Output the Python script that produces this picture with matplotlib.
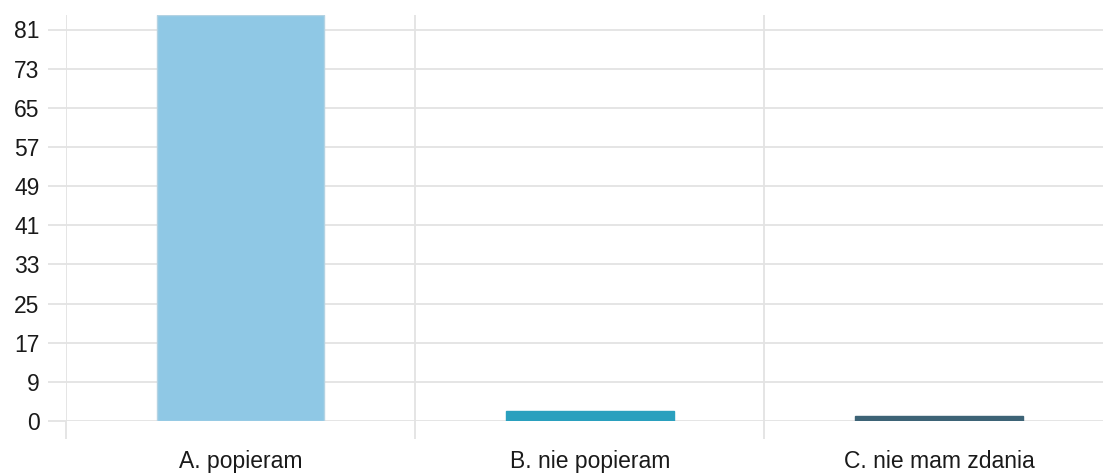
import math
import matplotlib
matplotlib.use('Agg')
import matplotlib.pyplot as plt

categories = ['A. popieram', 'B. nie popieram', 'C. nie mam zdania']
values = [84, 2, 1]
colors = ['#8fc8e5', '#2aa0be', '#3d6376']
edges = ['#b4d3e3', '#2aa0be', '#3d6376']
y_max = 81
n_ticks = 10

plt.rcParams['font.family'] = ['Liberation Sans', 'DejaVu Sans']

fig = plt.figure(figsize=(11.03, 4.76), dpi=100)
ax = fig.add_axes([66 / 1103, 55 / 476, 1047.5 / 1103, 406 / 476])

x = list(range(len(categories)))
ax.bar(x, values, width=0.48, color=colors, edgecolor=edges, linewidth=1, zorder=3)

ax.set_xlim(-0.5, len(categories) - 0.5)
ax.set_ylim(0, max(values))

ticks = [y_max / n_ticks * k for k in range(n_ticks + 1)]
ax.set_yticks(ticks)
ax.set_yticklabels([str(math.ceil(round(t, 6))) for t in ticks])

ax.set_xticks([i - 0.5 for i in range(len(categories) + 1)])
ax.set_xticklabels([])
ax.set_xticks(x, minor=True)
ax.set_xticklabels(categories, minor=True)

grid_c = '#e3e3e3'
ax.grid(True, which='major', color=grid_c, linewidth=1.3, zorder=0)
ax.set_axisbelow(True)
for s in ax.spines.values():
    s.set_visible(False)

ax.tick_params(axis='y', which='major', length=13, width=1.3, color=grid_c,
               pad=6, labelsize=16.5, labelcolor='#1a1a1a')
ax.tick_params(axis='x', which='major', length=13, width=1.3, color=grid_c)
ax.tick_params(axis='x', which='minor', length=0, pad=21, labelsize=16.5,
               labelcolor='#1a1a1a')

fig.savefig('out.png', dpi=100)
